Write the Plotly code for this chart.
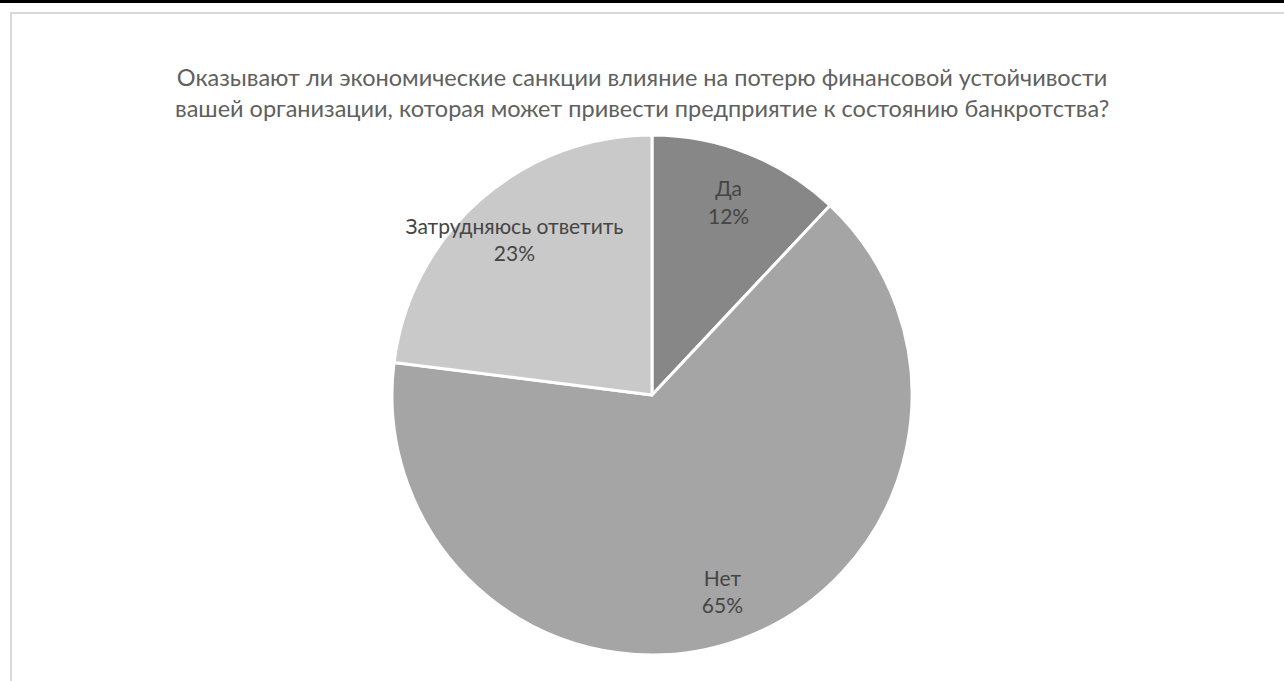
import plotly.graph_objects as go

labels = ["Да", "Нет", "Затрудняюсь ответить"]
values = [12, 65, 23]
colors = ["#878787", "#a5a5a5", "#c9c9c9"]
title_text = ("Оказывают ли экономические санкции влияние на потерю финансовой устойчивости<br>"
              "вашей организации, которая может привести предприятие к состоянию банкротства?")

W, H = 1284, 681
cx, cy, r = 652, 395, 260
dom = dict(x=[(cx - r) / W, (cx + r) / W], y=[1 - (cy + r) / H, 1 - (cy - r) / H])

fig = go.Figure()
# slices
fig.add_trace(go.Pie(
    labels=labels, values=values, sort=False, direction="clockwise", rotation=0,
    marker=dict(colors=colors, line=dict(color="white", width=3)),
    textinfo="none", showlegend=False, hoverinfo="skip", domain=dom,
))
# data labels (transparent ring so labels sit at ~0.8 of the radius)
fig.add_trace(go.Pie(
    labels=labels, values=values, sort=False, direction="clockwise", rotation=0,
    hole=0.6,
    marker=dict(colors=["rgba(0,0,0,0)"] * len(values), line=dict(width=0)),
    texttemplate="%{label}<br>%{percent:.0%}",
    textposition="inside", insidetextorientation="horizontal",
    textfont=dict(family="Lato", size=21, color="#454545"),
    showlegend=False, hoverinfo="skip", domain=dom,
))

fig.update_layout(
    width=W, height=H,
    margin=dict(l=0, r=0, t=0, b=0),
    paper_bgcolor="white",
    uniformtext=dict(minsize=21, mode="show"),
    annotations=[dict(
        text=title_text, x=0.5, y=1 - 93 / H, xref="paper", yref="paper",
        showarrow=False, xanchor="center", yanchor="middle",
        font=dict(family="Lato", size=23.5, color="#606060"),
    )],
    shapes=[
        dict(type="rect", xref="paper", yref="paper", x0=0, x1=1, y0=1 - 3 / H, y1=1,
             fillcolor="black", line=dict(width=0)),
        dict(type="line", xref="paper", yref="paper", x0=10 / W, x1=1, y0=1 - 13 / H, y1=1 - 13 / H,
             line=dict(color="#d9d9d9", width=2)),
        dict(type="line", xref="paper", yref="paper", x0=11 / W, x1=11 / W, y0=0, y1=1 - 13 / H,
             line=dict(color="#d9d9d9", width=2)),
    ],
)

fig.write_html("out.html",
               config={"displayModeBar": False},
               post_script="document.body.style.margin='0';document.body.style.overflow='hidden';")
